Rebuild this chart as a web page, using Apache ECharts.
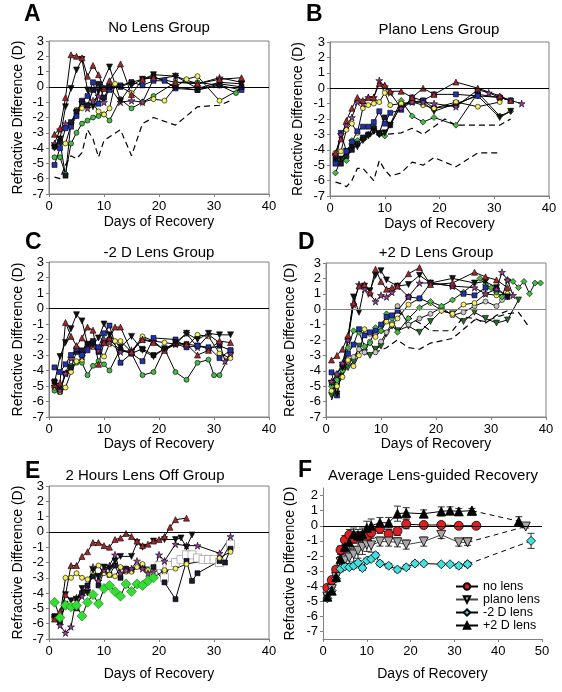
<!DOCTYPE html>
<html><head><meta charset="utf-8">
<script src="https://cdn.jsdelivr.net/npm/echarts@6/dist/echarts.min.js"></script>
<style>html,body{margin:0;padding:0;background:#fff}#c{width:562px;height:692px}</style>
</head><body><div id="c"></div>
<script>
// ---------- Panel A: No Lens Group ----------
const A_redTri = [[1,-3.1],[2,-2.7],[3,-0.7],[4,2.1],[5,2.0],[6,1.9],[7,0.7],[8,1.4],[9,0.8],[10,-0.1],[11,0.4],[13,1.5],[15,-0.5],[17,0.5],[19,0.6],[23,0.3],[27,0.2],[31,0.5],[35,0.6]];
const A_blackInvTri = [[1,-4.0],[2,-3.4],[3,-1.3],[4,-0.1],[5,1.1],[6,1.8],[7,-0.2],[8,-1.3],[9,-0.3],[11,1.3],[13,-0.9],[15,0.1],[17,0.5],[19,0.8],[23,0.7],[27,-0.1],[31,0.3],[35,0.2]];
const A_blackSq = [[1,-3.9],[2,-3.6],[3,-5.8],[4,-2.3],[5,-1.6],[6,-1.0],[7,-1.2],[8,-0.2],[9,0.2],[10,-0.7],[11,0.0],[13,0.0],[15,0.3],[17,0.5],[19,0.7],[23,0.0],[27,-0.2],[31,0.2],[35,0.0]];
const A_blueSq = [[1,-5.1],[2,-4.0],[3,-2.7],[4,-2.6],[5,-1.9],[6,-0.9],[7,-0.6],[8,0.3],[9,-1.1],[10,-0.1],[11,-0.2],[13,0.1],[15,0.3],[17,0.1],[19,0.4],[21,0.4],[23,-0.1],[27,-0.2],[31,0.1],[35,-0.2]];
const A_purpleStar = [[1,-3.7],[2,-2.8],[3,-2.4],[4,-2.4],[5,-1.6],[6,-1.0],[7,-1.4],[8,-0.9],[9,-0.6],[10,-1.0],[11,0.0],[13,-1.0],[15,-0.9],[17,-1.0],[19,0.5],[23,0.7],[27,0.2],[31,0.6],[35,0.3]];
const A_yellowCirc = [[1,-3.8],[2,-3.5],[3,-3.7],[4,-2.5],[5,-1.5],[6,-1.4],[7,-1.2],[8,-1.1],[9,-1.6],[10,-1.8],[11,-1.4],[12,0.2],[15,-0.4],[17,-1.0],[19,-0.8],[21,-0.9],[23,0.0],[25,0.5],[27,0.7],[31,-0.9],[35,-0.1]];
const A_greenCirc = [[1,-4.6],[2,-4.6],[3,-5.7],[4,-3.7],[5,-3.0],[6,-2.4],[7,-2.2],[8,-2.0],[9,-1.9],[10,-1.8],[11,-2.2],[13,-0.8],[15,-1.4],[17,-1.0],[19,-0.6],[23,0.3],[27,0.3],[31,0.1],[34,-0.4],[35,0.0]];
const A_dashed = [[1,-5.9],[2,-6.0],[3,-5.1],[4,-4.5],[5,-4.7],[6,-4.3],[7,-2.8],[8,-3.4],[9,-4.6],[10,-3.5],[13,-2.8],[15,-4.5],[17,-2.4],[19,-2.0],[23,-2.5],[27,-1.3],[31,-1.2],[33,-0.9]];

// ---------- Panel B: Plano Lens Group ----------
const B_redTri = [[1,-4.2],[2,-3.3],[3,-2.1],[4,-1.3],[5,-0.6],[6,-0.8],[7,-0.6],[8,-0.6],[9,0.3],[10,0.2],[11,-0.2],[13,-0.2],[15,-0.6],[17,0.0],[19,-0.4],[23,0.4],[27,0.0],[31,-0.5],[33,-0.8]];
const B_purpleStar = [[1,-4.3],[2,-3.0],[3,-2.4],[4,-1.9],[5,-0.9],[6,-1.0],[7,-0.6],[8,-0.6],[9,0.5],[10,0.1],[11,-0.3],[13,-1.3],[15,-0.9],[17,-0.9],[19,-1.0],[23,-1.2],[27,-0.1],[29,-0.3],[31,-0.6],[35,-1.0]];
const B_blueSq = [[1,-4.9],[2,-2.9],[3,-4.1],[4,-3.5],[5,-2.8],[6,-2.5],[7,-2.5],[8,-2.2],[9,-1.5],[10,-2.3],[11,-1.6],[13,-1.4],[15,-0.6],[17,-0.8],[19,-0.4],[23,-0.4],[27,-0.5],[31,-0.6],[33,-0.8]];
const B_yellowCirc = [[1,-4.2],[2,-4.1],[3,-2.7],[4,-2.3],[5,-2.9],[6,-1.3],[7,-1.1],[8,-1.0],[9,-0.9],[10,-0.3],[11,-1.1],[13,-1.0],[15,-0.9],[17,-1.1],[19,-1.3],[23,-0.9],[27,-1.2],[31,-0.9]];
const B_greenDiam = [[1,-5.5],[2,-4.6],[3,-4.7],[4,-3.4],[5,-3.4],[6,-3.3],[7,-3.0],[8,-2.5],[9,-3.0],[10,-3.1],[13,-0.8],[15,-1.8],[17,-2.2],[19,-1.9],[23,-2.4],[27,-0.3],[31,-1.8],[33,-1.5]];
const B_blackInvTri = [[1,-4.5],[2,-4.6],[3,-4.1],[4,-3.8],[5,-3.8],[6,-3.4],[7,-3.1],[8,-2.8],[9,-3.0],[10,-2.9],[11,-2.4],[13,-1.1],[15,-0.9],[17,-0.9],[19,-1.5],[23,-1.0],[27,-0.5],[31,-1.9],[33,-1.5]];
const B_blackSq = [[1,-4.6],[2,-4.9],[3,-4.4],[4,-4.0],[5,-3.6],[6,-3.2],[7,-3.0],[8,-2.6],[9,-2.9],[10,-1.9],[11,-2.4],[13,-1.1],[15,-0.9],[17,-0.8],[19,-1.3],[23,-1.1],[27,-0.4],[31,-0.6],[33,-0.8]];
const B_dashed1 = [[1,-4.5],[2,-4.9],[3,-4.3],[4,-4.1],[5,-3.6],[6,-3.5],[7,-3.2],[8,-2.9],[9,-3.1],[10,-3.0],[13,-2.9],[15,-2.6],[17,-3.0],[19,-2.5],[21,-2.0],[23,-2.4],[27,-2.4],[31,-2.4],[33,-2.0]];
const B_dashed2 = [[1,-6.1],[2,-6.2],[3,-6.4],[4,-6.0],[5,-5.2],[6,-5.2],[7,-5.6],[8,-6.0],[9,-4.7],[10,-5.3],[11,-5.7],[13,-5.5],[15,-4.8],[17,-5.0],[19,-4.5],[23,-5.1],[27,-4.2],[31,-4.2]];

// ---------- Panel C: -2 D Lens Group ----------
const C_blackInvTri = [[1,-4.8],[2,-3.1],[3,-2.2],[4,-1.3],[5,-0.4],[6,-0.8],[7,-2.3],[8,-2.3],[9,-1.9],[10,-1.0],[11,-1.7],[13,-2.5],[15,-1.8],[17,-2.7],[19,-3.1],[21,-2.6],[23,-2.2],[25,-1.6],[27,-2.0],[29,-1.6],[31,-1.7],[33,-1.7]];
const C_redTri = [[1,-4.9],[2,-4.8],[3,-0.9],[4,-1.8],[5,-2.4],[6,-1.9],[7,-1.2],[8,-1.4],[9,-3.6],[10,-2.2],[11,-1.9],[12,-1.2],[13,-1.2],[15,-2.8],[17,-2.0],[19,-2.2],[21,-2.7],[23,-2.2],[25,-2.3],[27,-3.0],[29,-2.7],[31,-2.1],[33,-2.2]];
const C_blueSq = [[1,-3.8],[2,-4.1],[3,-3.6],[4,-3.0],[5,-2.6],[6,-3.0],[7,-2.7],[8,-2.2],[9,-2.5],[10,-1.6],[11,-1.1],[13,-3.5],[15,-2.9],[17,-3.4],[19,-1.9],[23,-2.0],[25,-2.5],[27,-2.4],[29,-2.5],[31,-3.2],[33,-2.7]];
const C_purpleStar = [[1,-5.0],[2,-5.3],[3,-4.2],[4,-3.2],[5,-2.6],[6,-3.1],[7,-2.5],[8,-2.4],[9,-2.7],[10,-2.0],[11,-2.2],[13,-2.8],[15,-2.7],[17,-2.0],[19,-2.1],[21,-2.7],[23,-2.3],[25,-1.6],[27,-2.5],[29,-1.7],[31,-2.2],[32,-3.4],[33,-2.9]];
const C_yellowCirc = [[1,-5.1],[2,-5.4],[3,-5.1],[4,-4.1],[5,-3.4],[6,-3.3],[7,-2.6],[8,-2.5],[9,-2.6],[10,-3.1],[11,-2.3],[12,-2.1],[13,-2.1],[15,-2.8],[17,-1.8],[19,-2.1],[21,-2.2],[23,-2.3],[25,-2.5],[27,-1.7],[29,-1.8],[31,-2.9],[33,-3.2]];
const C_greenCirc = [[1,-5.3],[2,-5.4],[3,-4.2],[4,-3.7],[5,-3.5],[6,-3.5],[7,-4.3],[8,-3.7],[9,-3.4],[10,-3.6],[11,-4.0],[13,-2.6],[15,-2.9],[17,-4.3],[19,-4.1],[21,-2.6],[23,-4.1],[25,-4.6],[27,-3.5],[29,-3.3],[30,-4.3],[31,-4.3],[33,-2.9]];
const C_blackSq = [[1,-4.7],[2,-5.2],[3,-4.2],[4,-3.8],[5,-2.8],[6,-2.7],[7,-2.3],[8,-2.1],[9,-2.8],[10,-2.2],[11,-2.0],[13,-2.7],[15,-2.9],[17,-2.6],[19,-3.0],[21,-2.6],[23,-2.3],[25,-2.3],[27,-2.4],[29,-2.6],[31,-2.4],[33,-2.7]];

// ---------- Panel D: +2 D Lens Group ----------
const D_redTri = [[1,-3.3],[2,-3.0],[3,-2.6],[4,-1.7],[5,0.4],[6,1.5],[7,1.6],[8,1.1],[9,2.6],[10,1.8],[11,1.3],[12,1.4],[13,1.5],[15,2.3],[17,2.7],[19,1.6],[23,1.7],[27,2.4],[29,2.1],[31,1.9],[33,1.4]];
const D_purpleStar = [[1,-4.7],[2,-4.2],[3,-3.5],[4,-2.0],[5,0.3],[6,1.6],[7,1.3],[8,1.0],[9,0.5],[10,0.9],[11,0.8],[12,1.1],[13,1.5],[15,0.8],[17,1.7],[19,1.7],[23,1.5],[27,1.4],[29,1.0],[31,1.3],[32,2.4],[33,1.9],[34,0.9]];
const D_blackInvTri = [[1,-4.8],[2,-5.5],[3,-3.8],[4,-2.0],[5,0.8],[6,-0.2],[7,1.5],[8,1.2],[9,2.2],[10,2.5],[11,1.9],[13,1.5],[15,1.6],[17,2.2],[19,1.7],[23,2.0],[27,1.7],[29,1.8],[31,1.4],[33,0.8]];
const D_blueSq = [[1,-4.1],[2,-5.6],[3,-3.6],[4,-2.9],[5,-2.3],[6,-1.3],[7,-1.7],[8,-1.5],[9,-1.4],[10,-1.0],[11,-0.5],[12,-0.4],[13,-0.1],[15,0.8],[17,0.7],[19,1.7],[23,1.5],[25,1.0],[27,0.9],[29,1.4],[31,1.3],[33,0.8]];
const D_yellowCirc = [[1,-5.3],[2,-5.0],[3,-4.4],[4,-3.3],[5,-3.7],[6,-3.0],[7,-1.3],[8,-1.6],[9,-1.8],[10,-1.4],[11,-0.8],[12,-1.0],[13,-0.6],[15,0.3],[17,0.7],[19,0.4],[21,-0.1],[23,-0.3],[25,0.3],[27,0.4],[29,1.0],[31,0.9],[33,1.0]];
const D_greenDiam = [[1,-5.0],[2,-4.6],[3,-4.0],[4,-2.5],[5,-1.4],[6,-1.5],[7,-2.4],[8,-2.2],[9,-1.2],[10,-1.4],[11,-0.3],[12,-0.6],[13,-1.5],[15,-0.6],[17,0.1],[19,0.5],[21,0.2],[23,0.6],[25,1.1],[27,1.7],[28,2.0],[29,1.6],[30,1.4],[31,1.1],[32,0.8],[33,1.9],[34,1.8],[35,1.4],[36,1.8],[37,1.0],[38,1.7],[39,1.7]];
const D_greyCirc = [[1,-4.8],[2,-4.2],[3,-3.7],[4,-3.4],[5,-3.1],[6,-2.6],[7,-2.8],[8,-2.1],[9,-2.8],[10,-2.1],[11,-1.5],[12,-0.9],[13,0.2],[15,-1.0],[17,-0.6],[19,-0.3],[21,0.1],[23,-0.4],[25,-0.2],[27,0.2],[29,0.5],[31,0.2],[32,0.6]];
const D_dkGreenInvTri = [[1,-5.6],[2,-4.4],[3,-4.1],[4,-3.8],[5,-3.4],[6,-2.4],[7,-2.8],[8,-3.0],[9,-2.6],[10,-2.4],[11,-1.6],[12,-1.1],[13,-1.4],[15,-1.1],[17,-1.5],[19,-0.8],[21,-0.1],[23,-0.3],[25,-0.8],[27,-0.2],[29,-0.6],[31,-0.9],[33,-0.7],[35,0.6]];
const D_dashed1 = [[1,-5.9],[3,-4.1],[5,-3.1],[7,-2.9],[9,-2.8],[11,-2.5],[13,-2.0],[15,-2.5],[17,-2.6],[19,-2.2],[23,-1.9],[25,-1.3],[27,-0.7],[29,-0.8],[31,-0.5],[33,-0.3],[35,-0.2],[37,-1.2]];
const D_dashed2 = [[13,-0.2],[15,-0.5],[17,-0.9],[19,-1.4],[21,-1.4],[23,-1.4],[25,-0.5],[27,-0.6],[29,-0.9],[31,-0.4],[33,-0.1]];

// ---------- Panel E: 2 Hours Lens Off Group ----------
const E_redTri = [[1,-5.7],[2,-5.2],[3,-4.1],[4,-2.2],[5,-2.2],[6,-1.6],[7,-1.3],[8,-0.7],[9,-0.7],[10,-0.9],[11,-1.0],[12,-0.5],[13,-0.4],[14,-0.1],[15,-0.3],[16,-0.6],[17,-0.9],[18,-0.8],[19,-0.6],[20,-0.5],[21,-0.3],[22,0.3],[23,0.8],[25,0.9]];
const E_blackInvTri = [[1,-5.6],[2,-5.7],[3,-4.1],[4,-4.5],[5,-4.4],[6,-3.7],[7,-4.0],[8,-2.5],[9,-2.9],[10,-2.3],[11,-2.4],[12,-1.9],[13,-1.6],[15,-1.6],[16,-0.7],[17,-1.0],[19,-0.6],[21,-0.5],[23,-0.5],[24,-0.4],[25,-1.0],[26,-0.2]];
const E_purpleStar = [[1,-5.6],[2,-6.1],[3,-6.6],[4,-6.2],[5,-4.3],[6,-4.2],[7,-3.8],[8,-2.3],[9,-3.2],[10,-2.5],[11,-2.2],[12,-1.5],[13,-2.7],[14,-2.5],[15,-2.4],[16,-1.9],[17,-2.4],[18,-2.7],[19,-2.6],[20,-1.5],[21,-1.9],[23,-0.8],[25,-0.9],[27,-0.9],[31,-1.4],[33,-0.3]];
const E_yellowCirc = [[1,-5.7],[2,-5.5],[3,-3.0],[4,-3.0],[5,-2.7],[6,-3.0],[7,-3.1],[8,-2.6],[9,-2.2],[10,-2.7],[11,-2.8],[12,-2.9],[13,-2.3],[14,-2.6],[15,-2.6],[16,-2.3],[17,-2.1],[18,-2.5],[19,-3.0],[21,-2.5],[23,-2.4],[25,-2.1],[31,-1.7],[33,-1.3]];
const E_blackSq = [[1,-5.5],[2,-5.9],[3,-4.7],[4,-4.9],[5,-5.0],[6,-4.0],[7,-3.5],[8,-2.9],[9,-3.5],[10,-2.6],[11,-2.8],[12,-2.2],[13,-3.0],[14,-2.4],[15,-2.5],[17,-2.3],[19,-2.3],[21,-3.3],[23,-4.4],[25,-1.9],[26,-3.2],[27,-2.7],[31,-1.9],[32,-2.0],[33,-1.1]];
const E_greenDiam = [[1,-4.6],[2,-5.6],[3,-4.8],[4,-4.9],[5,-4.8],[6,-5.5],[7,-4.6],[8,-4.1],[9,-4.7],[10,-3.7],[11,-3.5],[12,-3.9],[13,-4.2],[14,-3.4],[15,-3.9],[16,-3.4],[17,-3.5],[18,-3.2],[19,-3.0]];
const E_whiteSq = [[19,-2.5],[20,-2.2],[21,-3.0],[22,-2.2],[23,-2.0],[24,-1.8],[25,-1.5],[26,-1.5],[27,-1.7],[28,-1.8],[29,-1.8],[30,-1.8],[31,-2.0],[33,-0.8]];

// ---------- Panel F: Average Lens-guided Recovery (last point joined by dashed line) ----------
const F_noLens_days = [1,2,3,4,5,6,7,8,9,10,11,13,15,17,19,23,27,31,35];
const F_noLens_vals = [-4.1,-3.6,-2.9,-1.6,-0.95,-0.6,-0.85,-0.7,-0.7,-0.75,-0.45,-0.2,-0.55,-0.35,0.1,0.05,0.05,0.0,0.0];
const F_noLens_err  = [0.15,0.2,0.2,0.25,0.3,0.35,0.3,0.3,0.3,0.25,0.3,0.3,0.3,0.3,0.3,0.1,0.1,0.1,0.1];
const F_plano_days = [1,2,3,4,5,6,7,8,9,10,11,13,15,17,19,23,27,31,33,46.3];
const F_plano_vals = [-4.7,-4.2,-3.4,-2.4,-2.3,-2.1,-1.9,-1.65,-1.4,-1.25,-1.3,-1.05,-1.05,-1.1,-1.25,-1.05,-0.6,-1.1,-1.1,-0.05];
const F_plano_err  = [0.15,0.2,0.3,0.35,0.45,0.5,0.5,0.5,0.5,0.45,0.45,0.3,0.3,0.3,0.3,0.3,0.25,0.25,0.2,0.1];
const F_minus2_days = [1,2,3,4,5,6,7,8,9,10,11,12,13,15,17,19,21,23,27,29,31,33,47.5];
const F_minus2_vals = [-4.8,-4.3,-3.5,-2.85,-2.7,-2.75,-2.65,-2.45,-2.8,-2.3,-2.2,-1.95,-2.5,-2.65,-2.9,-2.75,-2.5,-2.5,-2.55,-2.55,-2.65,-2.55,-1.0];
const F_minus2_err  = [0.15,0.2,0.2,0.2,0.2,0.15,0.15,0.15,0.15,0.15,0.15,0.15,0.15,0.15,0.15,0.15,0.15,0.1,0.1,0.1,0.15,0.15,0.5];
const F_plus2_days = [1,2,3,4,5,6,7,8,9,10,11,13,15,17,19,23,27,29,31,34,44.7];
const F_plus2_vals = [-4.7,-4.3,-3.4,-2.2,-1.4,-1.1,-0.55,-0.65,-0.55,-0.15,0.0,0.2,0.2,0.8,0.85,0.8,0.95,1.0,0.95,1.0,0.3];
const F_plus2_err  = [0.15,0.2,0.25,0.3,0.35,0.4,0.4,0.4,0.4,0.45,0.45,0.35,0.35,0.5,0.35,0.25,0.3,0.25,0.2,0.15,0.3];

const titles = ['No Lens Group','Plano Lens Group','-2 D Lens Group','+2 D Lens Group','2 Hours Lens Off Group','Average Lens-guided Recovery'];
const letters = ['A','B','C','D','E','F'];
const legendNames = ['no lens','plano lens','-2 D lens','+2 D lens'];

// ---------- styling ----------
const FONT = 'Liberation Sans, Arial, sans-serif';
const STAR = 'path://M50,0L61,35L98,35L68,57L79,91L50,70L21,91L32,57L2,35L39,35Z';
const ST = {
  redTri:{symbol:'triangle',color:'#a3282a',size:6},
  purpleStar:{symbol:STAR,color:'#9a3d9a',size:7},
  blueSq:{symbol:'rect',color:'#2233aa',size:5},
  yellowCirc:{symbol:'circle',color:'#f4f060',size:5},
  greenCirc:{symbol:'circle',color:'#44bb44',size:5},
  greenDiam:{symbol:'diamond',color:'#44bb44',size:6},
  blackInvTri:{symbol:'triangle',rotate:180,color:'#111',size:6},
  blackSq:{symbol:'rect',color:'#1a1a30',size:5},
  greyCirc:{symbol:'circle',color:'#c8c8c8',size:5},
  dkGreenInvTri:{symbol:'triangle',rotate:180,color:'#2a6a2a',size:6},
  bigGreenDiam:{symbol:'diamond',color:'#33dd33',size:10,border:'#1a7a1a'},
  whiteSq:{symbol:'rect',color:'#ffffff',size:8,border:'#888'}
};
const grids = [
  {left:49,top:41,width:220,height:153},
  {left:330,top:42,width:219,height:154},
  {left:49,top:262,width:220,height:155},
  {left:326,top:263,width:220,height:154},
  {left:49,top:486,width:220,height:153},
  {left:323,top:488,width:219,height:151}
];
const titlePos = [[159,20],[439,22],[159,245],[436,245],[145,468],[433,468]];
const letterPos = [[24,15],[306,15],[25,243],[298,243],[25,472],[298,471]];
const xNameGap = [21,21,20,17,28,28];
const yNameGap = [24,25,24,29,24,26];
const zeroColor = ['#000','#000','#000','#888','#000','#000'];

function ptsSeries(p, data, st, name) {
  return {type:'line', name: name, xAxisIndex:p, yAxisIndex:p, data:data,
    symbol:st.symbol, symbolSize:st.size, symbolRotate:st.rotate||0, showAllSymbol:true,
    lineStyle:{color:'#000',width:1},
    itemStyle:{color:st.color,borderColor:st.border||'#000',borderWidth:0.6},
    emphasis:{disabled:true}, z:3};
}
function dashSeries(p, data) {
  return {type:'line', xAxisIndex:p, yAxisIndex:p, data:data, symbol:'none',
    lineStyle:{color:'#000',width:1.2,type:[6,4]}, emphasis:{disabled:true}, z:2};
}
function zip(a,b){ return a.map((d,i)=>[d,b[i]]); }
function zip3(a,b,c){ return a.map((d,i)=>[d,b[i],c[i]]); }

const series = [];
for (let p=0;p<6;p++) {
  series.push({type:'line', xAxisIndex:p, yAxisIndex:p, data:[], silent:true,
    markLine:{silent:true, symbol:'none', label:{show:false},
      lineStyle:{color:zeroColor[p],width:1,type:'solid'}, data:[{yAxis:0}]}, z:1});
}
// A
series.push(dashSeries(0,A_dashed));
[[A_greenCirc,'greenCirc'],[A_yellowCirc,'yellowCirc'],[A_purpleStar,'purpleStar'],[A_blueSq,'blueSq'],[A_blackSq,'blackSq'],[A_blackInvTri,'blackInvTri'],[A_redTri,'redTri']]
  .forEach(([d,s])=>series.push(ptsSeries(0,d,ST[s])));
// B
series.push(dashSeries(1,B_dashed1)); series.push(dashSeries(1,B_dashed2));
[[B_greenDiam,'greenDiam'],[B_blackSq,'blackSq'],[B_blackInvTri,'blackInvTri'],[B_yellowCirc,'yellowCirc'],[B_blueSq,'blueSq'],[B_purpleStar,'purpleStar'],[B_redTri,'redTri']]
  .forEach(([d,s])=>series.push(ptsSeries(1,d,ST[s])));
// C
[[C_greenCirc,'greenCirc'],[C_yellowCirc,'yellowCirc'],[C_blackSq,'blackSq'],[C_purpleStar,'purpleStar'],[C_blueSq,'blueSq'],[C_redTri,'redTri'],[C_blackInvTri,'blackInvTri']]
  .forEach(([d,s])=>series.push(ptsSeries(2,d,ST[s])));
// D
series.push(dashSeries(3,D_dashed1)); series.push(dashSeries(3,D_dashed2));
[[D_dkGreenInvTri,'dkGreenInvTri'],[D_greyCirc,'greyCirc'],[D_yellowCirc,'yellowCirc'],[D_greenDiam,'greenDiam'],[D_blueSq,'blueSq'],[D_blackInvTri,'blackInvTri'],[D_purpleStar,'purpleStar'],[D_redTri,'redTri']]
  .forEach(([d,s])=>series.push(ptsSeries(3,d,ST[s])));
// E
[[E_whiteSq,'whiteSq'],[E_blackSq,'blackSq'],[E_yellowCirc,'yellowCirc'],[E_purpleStar,'purpleStar'],[E_blackInvTri,'blackInvTri'],[E_redTri,'redTri'],[E_greenDiam,'bigGreenDiam']]
  .forEach(([d,s])=>series.push(ptsSeries(4,d,ST[s])));

// F
const FS = [
  {name:legendNames[0], days:F_noLens_days, vals:F_noLens_vals, err:F_noLens_err, sym:'circle', rot:0, color:'#e02020', line:'#000', tail:false},
  {name:legendNames[1], days:F_plano_days, vals:F_plano_vals, err:F_plano_err, sym:'triangle', rot:180, color:'#a8a8a8', line:'#444', tail:true},
  {name:legendNames[2], days:F_minus2_days, vals:F_minus2_vals, err:F_minus2_err, sym:'diamond', rot:0, color:'#40e0e0', line:'#000', tail:true},
  {name:legendNames[3], days:F_plus2_days, vals:F_plus2_vals, err:F_plus2_err, sym:'triangle', rot:0, color:'#000', line:'#000', tail:true}
];
function errRender(params, api) {
  const x = api.value(0), y = api.value(1), e = api.value(2);
  const hi = api.coord([x, y + e]), lo = api.coord([x, y - e]);
  const w = 3.5, st = {stroke:'#333', lineWidth:1};
  return {type:'group', children:[
    {type:'line', shape:{x1:hi[0],y1:hi[1],x2:lo[0],y2:lo[1]}, style:st},
    {type:'line', shape:{x1:hi[0]-w,y1:hi[1],x2:hi[0]+w,y2:hi[1]}, style:st},
    {type:'line', shape:{x1:lo[0]-w,y1:lo[1],x2:lo[0]+w,y2:lo[1]}, style:st}
  ]};
}
FS.forEach(f => {
  series.push({type:'custom', xAxisIndex:5, yAxisIndex:5, renderItem:errRender,
    data:zip3(f.days,f.vals,f.err), silent:true, z:2});
});
FS.forEach(f => {
  const all = zip(f.days, f.vals);
  const main = f.tail ? all.slice(0, -1) : all;
  const common = {xAxisIndex:5, yAxisIndex:5, symbol:f.sym, symbolRotate:f.rot, symbolSize:9, showAllSymbol:true,
    itemStyle:{color:f.color, borderColor:'#000', borderWidth:0.8}, emphasis:{disabled:true}, z:4};
  series.push(Object.assign({type:'line', name:f.name, data:main, lineStyle:{color:f.line,width:1}}, common));
  if (f.tail) {
    series.push(Object.assign({type:'line', name:f.name + ' (tail)', data:all.slice(-2),
      lineStyle:{color:'#000',width:1,type:[5,4]}}, common));
  }
});

const xAxes = grids.map((g,i)=>({type:'value', gridIndex:i, min:0, max: i===5?50:40, interval:10,
  name:'Days of Recovery', nameLocation:'middle', nameGap:xNameGap[i],
  nameTextStyle:{fontSize:14,color:'#000',fontFamily:FONT},
  axisLine:{show:true,onZero:false,lineStyle:{color:'#808080',width:1}},
  axisTick:{show:true,length:3,lineStyle:{color:'#808080'}},
  axisLabel:{fontSize:13,color:'#000',margin:6,fontFamily:FONT}, splitLine:{show:false}}));
const tickVals = [-7,-6,-5,-4,-3,-2,-1,0,1,2];
const yAxes = grids.map((g,i)=>{
  const base = {type:'value', gridIndex:i, name:'Refractive Difference (D)', nameLocation:'middle', nameGap:yNameGap[i],
    nameTextStyle:{fontSize:14,color:'#000',fontFamily:FONT},
    axisLine:{show:true,onZero:false,lineStyle:{color:'#808080',width:1}},
    axisTick:{show:true,length:3,lineStyle:{color:'#808080'}},
    axisLabel:{fontSize:13,color:'#000',margin:5,fontFamily:FONT}, splitLine:{show:false}};
  if (i===5) {
    base.min=-7.5; base.max=2.5;
    base.axisLabel.customValues = tickVals;
    base.axisTick.customValues = tickVals;
  } else { base.min=-7; base.max=3; base.interval=1; }
  return base;
});

const option = {
  animation:false,
  backgroundColor:'#fff',
  textStyle:{fontFamily:FONT},
  grid: grids.map((g,i)=>Object.assign({show:i<5, borderColor:'#808080', borderWidth:1, backgroundColor:'transparent'}, g)),
  xAxis:xAxes, yAxis:yAxes,
  title: titles.map((t,i)=>({text:t, left:titlePos[i][0], top:titlePos[i][1], textAlign:'center', padding:0,
    textStyle:{fontSize:15,fontWeight:'normal',color:'#000',fontFamily:FONT}})),
  graphic: letters.map((l,i)=>({type:'text', left:letterPos[i][0], top:letterPos[i][1]-12,
    style:{text:l, font:'bold 23px ' + FONT, fill:'#000'}})),
  legend:{data:legendNames, orient:'vertical', left:455, top:580, itemWidth:22, itemHeight:8, itemGap:0, padding:0,
    textStyle:{fontSize:12.5,lineHeight:13,color:'#000',fontFamily:FONT}},
  series:series
};
const chart = echarts.init(document.getElementById('c'), null, {renderer:'canvas'});
chart.setOption(option);
</script>
</body></html>
